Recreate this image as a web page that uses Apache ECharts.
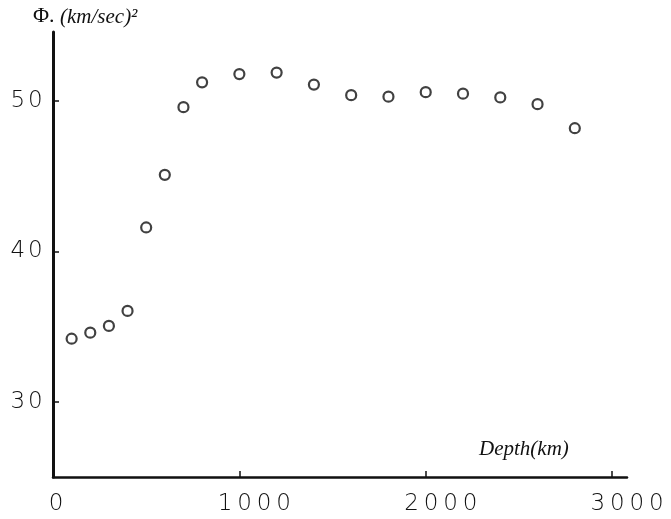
<!DOCTYPE html>
<html>
<head>
<meta charset="utf-8">
<script src="https://cdn.jsdelivr.net/npm/echarts@6/dist/echarts.min.js"></script>
<style>
  html, body { margin: 0; padding: 0; background: #fff; }
  #chart { width: 671px; height: 519px; }
</style>
</head>
<body>
<div id="chart"></div>
<script>
// Seismic parameter Φ against depth in the mantle
const depths = [100, 200, 300, 400, 500, 600, 700, 800, 1000, 1200, 1400, 1600, 1800, 2000, 2200, 2400, 2600, 2800];
const phiValues = [34.2, 34.6, 35.05, 36.05, 41.6, 45.1, 49.6, 51.25, 51.8, 51.9, 51.1, 50.4, 50.3, 50.6, 50.5, 50.25, 49.8, 48.2];
const xTicks = [0, 1000, 2000, 3000];
const yTicks = [30, 40, 50];

const points = depths.map((d, i) => [d, phiValues[i]]);

const chart = echarts.init(document.getElementById('chart'), null, { renderer: 'canvas' });
const labelFont = '"DejaVu Sans", sans-serif';
const handFont = '"Liberation Serif", "DejaVu Serif", serif';

// Lettering-guide style numerals: each digit sits in its own fixed-width cell
const spaced = (v, style) => String(v).split('').map(ch => '{' + style + '|' + ch + '}').join('');
const digit = (w) => ({
  fontFamily: labelFont, fontWeight: 200, fontSize: 23, color: '#111',
  width: w, align: 'center'
});

chart.setOption({
  backgroundColor: '#ffffff',
  animation: false,
  grid: { left: 53, right: 44, top: 32, bottom: 42 },
  xAxis: {
    type: 'value',
    min: 0,
    max: 3080,
    axisLine: { show: true, onZero: false, lineStyle: { color: '#111', width: 2.5 } },
    axisTick: {
      show: true, inside: true, length: 6,
      customValues: xTicks.slice(1),
      lineStyle: { color: '#111', width: 1.5 }
    },
    axisLabel: {
      customValues: xTicks,
      margin: 16,
      formatter: v => (v === 0 ? '{pz|}' + spaced(v, 'd') : '{pn|}' + spaced(v, 'd')),
      rich: {
        d: digit(19.5),
        pz: { width: 6 },
        pn: { width: 30 }
      }
    },
    splitLine: { show: false }
  },
  yAxis: {
    type: 'value',
    min: 25,
    max: 54.6,
    axisLine: { show: true, onZero: false, lineStyle: { color: '#111', width: 3 } },
    axisTick: {
      show: true, inside: true, length: 6,
      customValues: yTicks,
      lineStyle: { color: '#111', width: 1.5 }
    },
    axisLabel: {
      customValues: yTicks,
      margin: 9,
      formatter: v => spaced(v, 'd'),
      rich: { d: digit(17.5) }
    },
    splitLine: { show: false }
  },
  graphic: [
    {
      type: 'text', left: 33, top: 5,
      style: { text: 'Φ.', font: '22px ' + handFont, fill: '#111' }
    },
    {
      type: 'text', left: 60, top: 7,
      style: {
        text: '(km/sec)²', font: 'italic 21px ' + handFont, fill: '#111'
      }
    },
    {
      type: 'text', left: 479, top: 439,
      style: { text: 'Depth(km)', font: 'italic 21px ' + handFont, fill: '#111' }
    }
  ],
  series: [{
    type: 'scatter',
    data: points,
    symbol: 'circle',
    symbolSize: 10,
    itemStyle: { color: '#ffffff', borderColor: '#111', borderWidth: 2.2 }
  }]
});
</script>
</body>
</html>
